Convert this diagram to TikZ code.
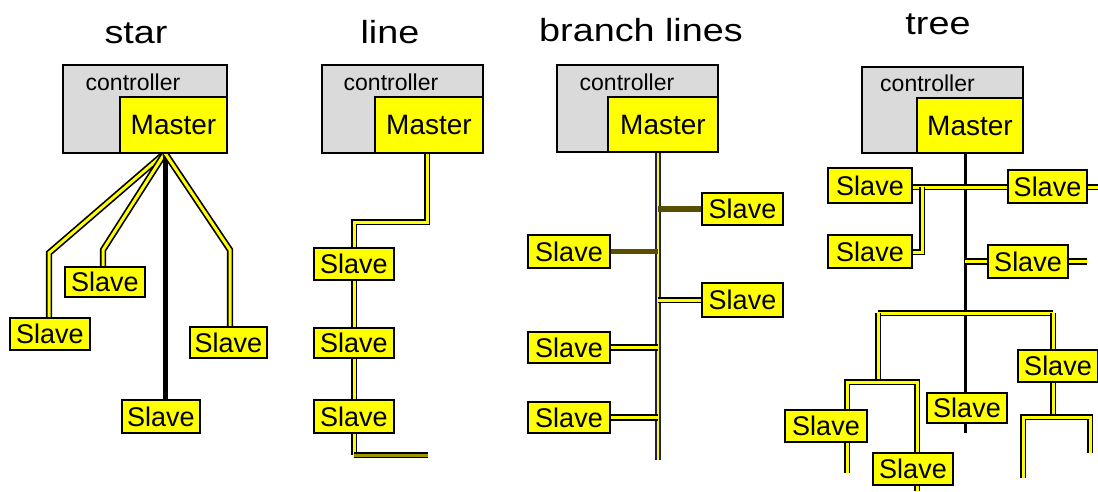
\documentclass[tikz,border=0pt]{standalone}
\usepackage{fontspec}
\setmainfont{Liberation Sans}
\newfontfamily\titlefont[FakeStretch=1.18]{Liberation Sans}
\usetikzlibrary{calc}
\pgfdeclarelayer{bg}
\pgfsetlayers{bg,main}
\definecolor{slaveyellow}{RGB}{255,255,0}
\definecolor{ctrlgray}{RGB}{218,218,218}
\definecolor{olivewire}{RGB}{88,80,0}
\definecolor{busblue}{RGB}{30,30,80}
\tikzset{
  title/.style={anchor=base, font=\titlefont\fontsize{32}{36}\selectfont},
  ctrlbox/.style={draw=black, line width=2pt, fill=ctrlgray, inner sep=0pt},
  ctrllabel/.style={font=\fontsize{23}{26}\selectfont, inner sep=0pt},
  masterbox/.style={draw=black, line width=2pt, fill=slaveyellow, inner sep=0pt,
    font=\fontsize{28}{30}\selectfont},
  slavebox/.style={draw=black, line width=2pt, fill=slaveyellow, inner sep=0pt,
    minimum width=80pt, minimum height=32pt, font=\fontsize{27}{30}\selectfont},
  wire/.style={draw=black, double=slaveyellow, double distance=3pt, line width=1.7pt},
  busline/.style={draw=busblue, double=slaveyellow, double distance=2.5pt, line width=2pt},
  darkwire/.style={draw=olivewire, line width=5.5pt},
  blackwire/.style={draw=black, line width=5pt},
  trunk/.style={draw=black, line width=3pt},
}
\begin{document}
\begin{tikzpicture}[x=1pt, y=-1pt]
\useasboundingbox (0,0) rectangle (1098,491);

% ---------- titles ----------
\node[title] (tstar)   at (136,43) {star};
\node[title] (tline)   at (390,43) {line};
\node[title] (tbranch) at (641,41) {branch lines};
\node[title] (ttree)   at (938,34) {tree};

% ---------- star ----------
\node[ctrlbox, minimum width=164pt, minimum height=88pt] (c1) at (145,109) {};
\node[ctrllabel] (c1l) at (133,82) {controller};
\node[masterbox, minimum width=107pt, minimum height=56pt] (m1) at (173.5,125) {Master};
\node[slavebox] (s1a) at (50,334) {Slave};
\node[slavebox, minimum height=30pt] (s1b) at (105,282) {Slave};
\node[slavebox, minimum width=78pt, minimum height=33pt] (s1c) at (161,416.5) {Slave};
\node[slavebox, minimum width=77pt, minimum height=31pt] (s1d) at (228.5,342.5) {Slave};
\coordinate (hub1) at (165,153);
\coordinate (b1a) at (49,253);
\coordinate (b1b) at (103,250);
\coordinate (b1d) at (230,250);
\begin{pgfonlayer}{bg}
  \draw[wire] (hub1) -- (b1a) -- (b1a |- s1a.north);
  \draw[wire] (hub1) -- (b1b) -- (b1b |- s1b.north);
  \draw[blackwire] (hub1) -- (hub1 |- s1c.north);
  \draw[wire] (hub1) -- (b1d) -- (b1d |- s1d.north);
\end{pgfonlayer}

% ---------- line ----------
\node[ctrlbox, minimum width=161pt, minimum height=88pt] (c2) at (402.5,109) {};
\node[ctrllabel] (c2l) at (391,82) {controller};
\node[masterbox, minimum width=108pt, minimum height=56pt] (m2) at (429,125) {Master};
\node[slavebox] (s2a) at (354,264) {Slave};
\node[slavebox, minimum height=30pt] (s2b) at (354,343) {Slave};
\node[slavebox, minimum height=33pt] (s2c) at (354,416.5) {Slave};
\coordinate (j2a) at (427,222);
\coordinate (j2b) at (354,222);
\coordinate (j2c) at (354,455);
\coordinate (j2d) at (428,455);
\begin{pgfonlayer}{bg}
  \draw[wire] (j2a |- m2.south) -- (j2a) -- (j2b) -- (s2a.north);
  \draw[wire] (s2a.south) -- (s2b.north);
  \draw[wire] (s2b.south) -- (s2c.north);
  \draw[wire] (s2c.south) -- (j2c);
  \draw[wire, draw=black, double=olivewire!60!slaveyellow] (j2c) -- (j2d);
\end{pgfonlayer}

% ---------- branch lines ----------
\node[ctrlbox, minimum width=161pt, minimum height=87pt] (c3) at (637.5,108.5) {};
\node[ctrllabel] (c3l) at (627,82) {controller};
\node[masterbox, minimum width=110pt, minimum height=55pt] (m3) at (663,124.5) {Master};
\node[slavebox, minimum width=81pt] (r3a) at (742.5,209) {Slave};
\node[slavebox, minimum width=82pt, minimum height=33pt] (l3a) at (569,251.5) {Slave};
\node[slavebox, minimum width=81pt, minimum height=34pt] (r3b) at (742.5,300) {Slave};
\node[slavebox, minimum width=82pt, minimum height=31pt] (l3b) at (569,347.5) {Slave};
\node[slavebox, minimum width=82pt, minimum height=31pt] (l3c) at (569,417.5) {Slave};
\coordinate (bus3top) at (658,152);
\coordinate (bus3bot) at (658,460);
\begin{pgfonlayer}{bg}
  \draw[busline] (bus3top) -- (bus3bot);
  \draw[darkwire] (r3a.west) -- (r3a.west -| bus3top);
  \draw[darkwire] (l3a.east) -- (l3a.east -| bus3top);
  \draw[wire] (r3b.west) -- (r3b.west -| bus3top);
  \draw[wire] (l3b.east) -- (l3b.east -| bus3top);
  \draw[wire] (l3c.east) -- (l3c.east -| bus3top);
\end{pgfonlayer}

% ---------- tree ----------
\node[ctrlbox, minimum width=161pt, minimum height=86pt] (c4) at (942.5,110) {};
\node[ctrllabel] (c4l) at (927.5,83) {controller};
\node[masterbox, minimum width=106pt, minimum height=55pt] (m4) at (970,125.5) {Master};
\node[slavebox, minimum width=84pt, minimum height=35pt] (tl) at (870,185.5) {Slave};
\node[slavebox, minimum width=79pt, minimum height=33pt] (tr) at (1047.5,186.5) {Slave};
\node[slavebox, minimum width=84pt, minimum height=33pt] (ml) at (870,251.5) {Slave};
\node[slavebox, minimum height=33pt] (mr) at (1028,261.5) {Slave};
\node[slavebox, minimum width=82pt] (bl) at (826,426) {Slave};
\node[slavebox] (bl2) at (913,469) {Slave};
\node[slavebox, minimum height=30pt] (bc) at (967,408) {Slave};
\node[slavebox] (br) at (1058,366) {Slave};
\coordinate (t4top) at (965,153);
\coordinate (t4bot) at (965,433);
\coordinate (e4a) at (1098,187);
\coordinate (d4a) at (922,187);
\coordinate (d4b) at (922,252);
\coordinate (e4b) at (1087,261);
\coordinate (h4l) at (878,313);
\coordinate (h4r) at (1053,313);
\coordinate (k4a) at (878,382);
\coordinate (k4l) at (847,382);
\coordinate (k4r) at (917,382);
\coordinate (k4le) at (847,473);
\coordinate (k4re) at (917,491);
\coordinate (q4) at (1053,417);
\coordinate (q4l) at (1023,417);
\coordinate (q4r) at (1090,417);
\coordinate (q4le) at (1023,478);
\coordinate (q4re) at (1090,453);
\begin{pgfonlayer}{bg}
  \draw[trunk] (t4top) -- (t4bot);
  \draw[wire] (tl.east |- d4a) -- (tr.west |- d4a);
  \draw[wire] (tr.east |- d4a) -- (e4a);
  \draw[wire] (d4a) -- (d4b) -- (ml.east |- d4b);
  \draw[wire] (t4top |- mr.west) -- (mr.west);
  \draw[wire] (mr.east) -- (e4b |- mr.east);
  \draw[wire] (h4l) -- (h4r);
  \draw[wire] (h4l) -- (k4a);
  \draw[wire] (k4le) -- (k4l) -- (k4r) -- (k4re);
  \draw[wire] (h4r) -- (q4);
  \draw[wire] (q4le) -- (q4l) -- (q4r) -- (q4re);
\end{pgfonlayer}
\end{tikzpicture}
\end{document}
